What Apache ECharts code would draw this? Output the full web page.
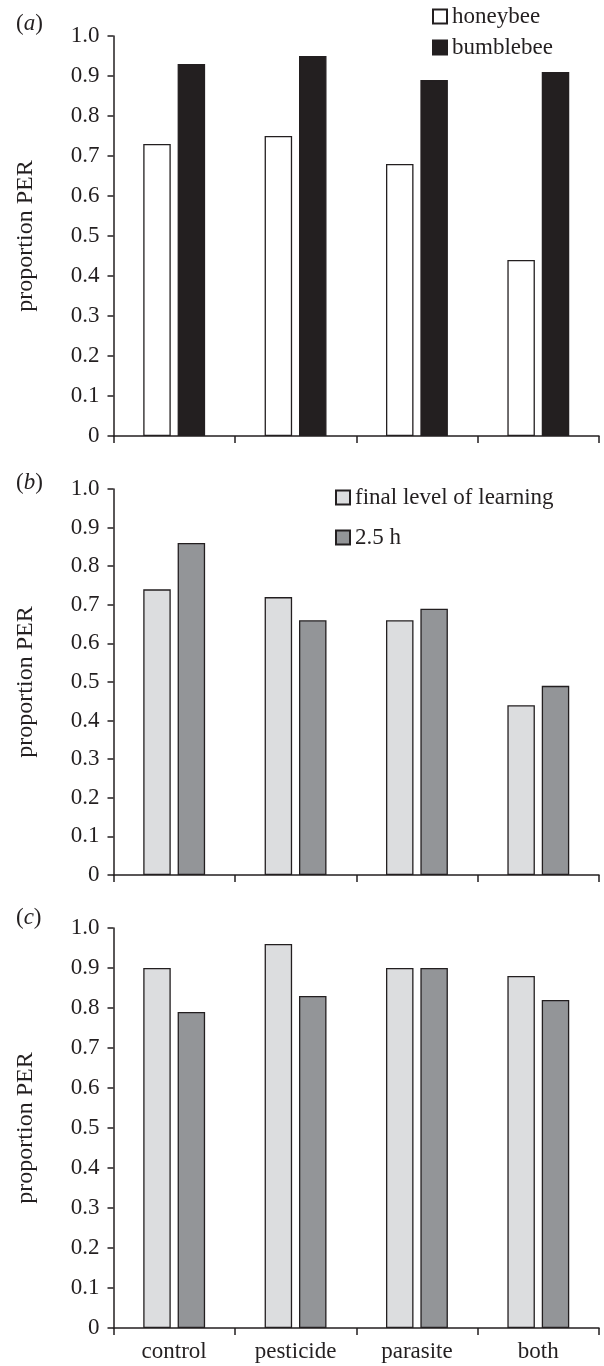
<!DOCTYPE html>
<html>
<head>
<meta charset="utf-8">
<script src="https://cdn.jsdelivr.net/npm/echarts@6/dist/echarts.min.js"></script>
<style>
html,body{margin:0;padding:0;background:#fff;}
#chart{width:604px;height:1366px;}
</style>
</head>
<body>
<div id="chart"></div>
<script>
const categories = ['control', 'pesticide', 'parasite', 'both'];
const honeybee = [0.73, 0.75, 0.68, 0.44];
const bumblebee = [0.93, 0.95, 0.89, 0.91];
const finalLevelB = [0.74, 0.72, 0.66, 0.44];
const hours25B = [0.86, 0.66, 0.69, 0.49];
const finalLevelC = [0.90, 0.96, 0.90, 0.88];
const hours25C = [0.79, 0.83, 0.90, 0.82];
const panelLabels = ['a', 'b', 'c'];
const yName = 'proportion PER';

const INK = '#231f20';
const FONT = "'Liberation Serif', 'DejaVu Serif', serif";
const FS = 23;

const grids = [
  {left: 113.5, right: 5, top: 36, height: 400},
  {left: 113.5, right: 5, top: 489, height: 386},
  {left: 113.5, right: 5, top: 928, height: 400}
];

function xAxis(i, showLabels) {
  return {
    type: 'category', gridIndex: i, data: categories,
    axisLine: {lineStyle: {color: INK, width: 1.5}},
    axisTick: {show: true, length: 7, lineStyle: {color: INK, width: 1.5}},
    axisLabel: {show: showLabels, color: INK, fontFamily: FONT, fontSize: FS, margin: 12}
  };
}
function yAxis(i) {
  return {
    type: 'value', gridIndex: i, min: 0, max: 1, interval: 0.1,
    name: yName, nameLocation: 'middle', nameRotate: 90, nameGap: 76,
    nameTextStyle: {color: INK, fontFamily: FONT, fontSize: 24},
    axisLine: {show: true, lineStyle: {color: INK, width: 1.5}},
    axisTick: {show: true, length: 6, lineStyle: {color: INK, width: 1.5}},
    splitLine: {show: false},
    axisLabel: {color: INK, fontFamily: FONT, fontSize: FS, margin: 14,
      formatter: v => v === 0 ? '0' : v.toFixed(1)}
  };
}
function bar(name, data, i, color) {
  return {
    type: 'bar', name: name, data: data, xAxisIndex: i, yAxisIndex: i,
    barWidth: 27.5, barGap: '25%',
    itemStyle: {color: color, borderColor: INK, borderWidth: 1.3},
    emphasis: {disabled: true}, animation: false
  };
}

const legendText = {color: INK, fontFamily: FONT, fontSize: FS};
const option = {
  backgroundColor: '#fff',
  animation: false,
  textStyle: {fontFamily: FONT},
  title: panelLabels.map((p, i) => ({
    text: '{n|(}{i|' + p + '}{n|)}',
    left: 16, top: [12, 471, 906][i], padding: 0,
    textStyle: {fontWeight: 'normal', fontFamily: FONT, fontSize: FS, rich: {
      n: {fontFamily: FONT, fontSize: FS, fontWeight: 'normal', color: INK},
      i: {fontFamily: FONT, fontSize: FS, fontWeight: 'normal', fontStyle: 'italic', color: INK}
    }}
  })),
  legend: [
    {data: ['honeybee', 'bumblebee'], orient: 'vertical', left: 432, top: 5,
     itemWidth: 14, itemHeight: 14, itemGap: 8, textStyle: legendText, padding: 0,
     icon: 'rect', selectedMode: false},
    {data: ['final level of learning', '2.5 h'], orient: 'vertical', left: 335, top: 486,
     itemWidth: 14, itemHeight: 14, itemGap: 17, textStyle: legendText, padding: 0,
     icon: 'rect', selectedMode: false}
  ],
  grid: grids,
  xAxis: [xAxis(0, false), xAxis(1, false), xAxis(2, true)],
  yAxis: [yAxis(0), yAxis(1), yAxis(2)],
  series: [
    bar('honeybee', honeybee, 0, '#ffffff'),
    bar('bumblebee', bumblebee, 0, INK),
    bar('final level of learning', finalLevelB, 1, '#dcdddf'),
    bar('2.5 h', hours25B, 1, '#939598'),
    bar('final level of learning', finalLevelC, 2, '#dcdddf'),
    bar('2.5 h', hours25C, 2, '#939598')
  ]
};
const chart = echarts.init(document.getElementById('chart'), null, {renderer: 'canvas'});
chart.setOption(option);
</script>
</body>
</html>
